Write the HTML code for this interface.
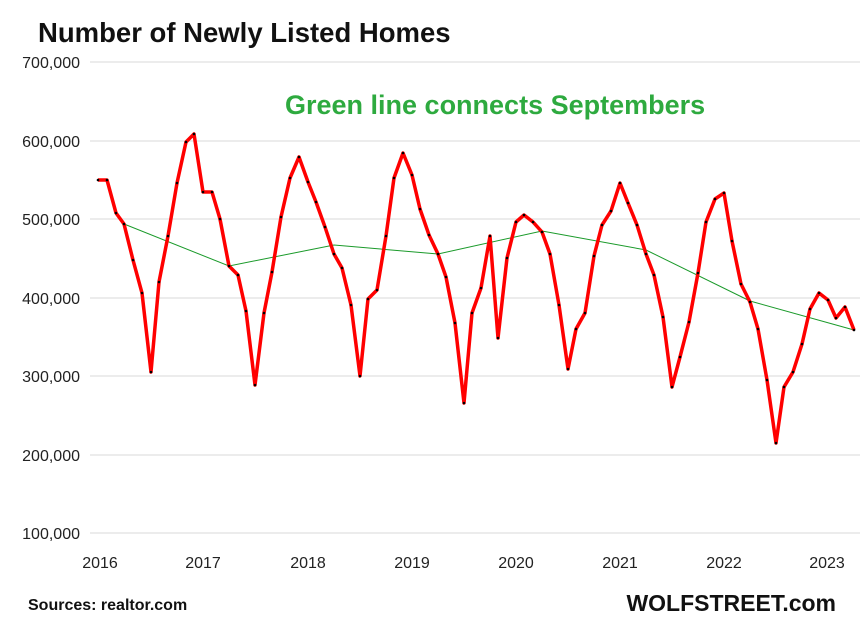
<!DOCTYPE html>
<html><head><meta charset="utf-8"><style>
html,body{margin:0;padding:0;background:#fff;}
svg{display:block;font-family:"Liberation Sans",Arial,sans-serif;}
</style></head><body>
<svg width="863" height="630" viewBox="0 0 863 630" xmlns="http://www.w3.org/2000/svg">
<rect width="863" height="630" fill="#fff"/>
<g stroke="#d9d9d9" stroke-width="1">
<line x1="90" y1="62" x2="860" y2="62"/>
<line x1="90" y1="141" x2="860" y2="141"/>
<line x1="90" y1="219" x2="860" y2="219"/>
<line x1="90" y1="298" x2="860" y2="298"/>
<line x1="90" y1="376" x2="860" y2="376"/>
<line x1="90" y1="455" x2="860" y2="455"/>
<line x1="90" y1="533" x2="860" y2="533"/>
</g>
<g font-size="16" fill="#222" text-anchor="end">
<text x="80" y="68">700,000</text>
<text x="80" y="147">600,000</text>
<text x="80" y="225">500,000</text>
<text x="80" y="304">400,000</text>
<text x="80" y="382">300,000</text>
<text x="80" y="461">200,000</text>
<text x="80" y="539">100,000</text>
</g>
<g font-size="16" fill="#222" text-anchor="middle">
<text x="100" y="568">2016</text>
<text x="203" y="568">2017</text>
<text x="308" y="568">2018</text>
<text x="412" y="568">2019</text>
<text x="516" y="568">2020</text>
<text x="620" y="568">2021</text>
<text x="724" y="568">2022</text>
<text x="827" y="568">2023</text>
</g>
<text x="38" y="42" font-size="27.5" font-weight="bold" fill="#111">Number of Newly Listed Homes</text>
<text x="285" y="114" font-size="27" font-weight="bold" fill="#2eaa3f">Green line connects Septembers</text>
<text x="28" y="610" font-size="16" font-weight="bold" fill="#111">Sources: realtor.com</text>
<text x="836" y="611" font-size="23" font-weight="bold" fill="#111" text-anchor="end">WOLFSTREET.com</text>
<polyline fill="none" stroke="#1a9a2a" stroke-width="1" points="124,224 229,266 334,245 438,254 542,231 646,250 750,301 854,330"/>
<polyline fill="none" stroke="#ff0000" stroke-width="3.5" stroke-linejoin="round" points="
98,180 107,180 116,213 124,224 133,260 142,293 151,372 159,282 168,236 177,183 186,142 194,134
203,192 212,192 220,219 229,266 238,275 246,311 255,385 264,313 272,272 281,217 290,178 299,157
308,182 316,202 325,227 334,254 342,268 351,305 360,376 368,299 377,290 386,236 394,178 403,153
412,175 420,209 429,235 438,254 446,277 455,323 464,403 472,313 481,288 490,236 498,338 507,258
516,222 524,215 533,222 542,232 550,254 559,305 568,369 576,329 585,313 594,256 602,225 611,211
620,183 628,203 637,225 646,254 654,275 663,317 672,387 680,357 689,322 698,273 706,222 715,199
724,193 732,241 741,284 750,302 758,329 767,380 776,443 784,387 793,372 802,344 810,309 819,293
828,300 836,318 845,307 854,330"/>
<g fill="#000">
<circle cx="98" cy="180" r="1.3"/><circle cx="107" cy="180" r="1.3"/><circle cx="116" cy="213" r="1.3"/><circle cx="124" cy="224" r="1.3"/><circle cx="133" cy="260" r="1.3"/><circle cx="142" cy="293" r="1.3"/><circle cx="151" cy="372" r="1.3"/><circle cx="159" cy="282" r="1.3"/><circle cx="168" cy="236" r="1.3"/><circle cx="177" cy="183" r="1.3"/><circle cx="186" cy="142" r="1.3"/><circle cx="194" cy="134" r="1.3"/>
<circle cx="203" cy="192" r="1.3"/><circle cx="212" cy="192" r="1.3"/><circle cx="220" cy="219" r="1.3"/><circle cx="229" cy="266" r="1.3"/><circle cx="238" cy="275" r="1.3"/><circle cx="246" cy="311" r="1.3"/><circle cx="255" cy="385" r="1.3"/><circle cx="264" cy="313" r="1.3"/><circle cx="272" cy="272" r="1.3"/><circle cx="281" cy="217" r="1.3"/><circle cx="290" cy="178" r="1.3"/><circle cx="299" cy="157" r="1.3"/>
<circle cx="308" cy="182" r="1.3"/><circle cx="316" cy="202" r="1.3"/><circle cx="325" cy="227" r="1.3"/><circle cx="334" cy="254" r="1.3"/><circle cx="342" cy="268" r="1.3"/><circle cx="351" cy="305" r="1.3"/><circle cx="360" cy="376" r="1.3"/><circle cx="368" cy="299" r="1.3"/><circle cx="377" cy="290" r="1.3"/><circle cx="386" cy="236" r="1.3"/><circle cx="394" cy="178" r="1.3"/><circle cx="403" cy="153" r="1.3"/>
<circle cx="412" cy="175" r="1.3"/><circle cx="420" cy="209" r="1.3"/><circle cx="429" cy="235" r="1.3"/><circle cx="438" cy="254" r="1.3"/><circle cx="446" cy="277" r="1.3"/><circle cx="455" cy="323" r="1.3"/><circle cx="464" cy="403" r="1.3"/><circle cx="472" cy="313" r="1.3"/><circle cx="481" cy="288" r="1.3"/><circle cx="490" cy="236" r="1.3"/><circle cx="498" cy="338" r="1.3"/><circle cx="507" cy="258" r="1.3"/>
<circle cx="516" cy="222" r="1.3"/><circle cx="524" cy="215" r="1.3"/><circle cx="533" cy="222" r="1.3"/><circle cx="542" cy="232" r="1.3"/><circle cx="550" cy="254" r="1.3"/><circle cx="559" cy="305" r="1.3"/><circle cx="568" cy="369" r="1.3"/><circle cx="576" cy="329" r="1.3"/><circle cx="585" cy="313" r="1.3"/><circle cx="594" cy="256" r="1.3"/><circle cx="602" cy="225" r="1.3"/><circle cx="611" cy="211" r="1.3"/>
<circle cx="620" cy="183" r="1.3"/><circle cx="628" cy="203" r="1.3"/><circle cx="637" cy="225" r="1.3"/><circle cx="646" cy="254" r="1.3"/><circle cx="654" cy="275" r="1.3"/><circle cx="663" cy="317" r="1.3"/><circle cx="672" cy="387" r="1.3"/><circle cx="680" cy="357" r="1.3"/><circle cx="689" cy="322" r="1.3"/><circle cx="698" cy="273" r="1.3"/><circle cx="706" cy="222" r="1.3"/><circle cx="715" cy="199" r="1.3"/>
<circle cx="724" cy="193" r="1.3"/><circle cx="732" cy="241" r="1.3"/><circle cx="741" cy="284" r="1.3"/><circle cx="750" cy="302" r="1.3"/><circle cx="758" cy="329" r="1.3"/><circle cx="767" cy="380" r="1.3"/><circle cx="776" cy="443" r="1.3"/><circle cx="784" cy="387" r="1.3"/><circle cx="793" cy="372" r="1.3"/><circle cx="802" cy="344" r="1.3"/><circle cx="810" cy="309" r="1.3"/><circle cx="819" cy="293" r="1.3"/>
<circle cx="828" cy="300" r="1.3"/><circle cx="836" cy="318" r="1.3"/><circle cx="845" cy="307" r="1.3"/><circle cx="854" cy="330" r="1.3"/>
</g>
</svg>
</body></html>
